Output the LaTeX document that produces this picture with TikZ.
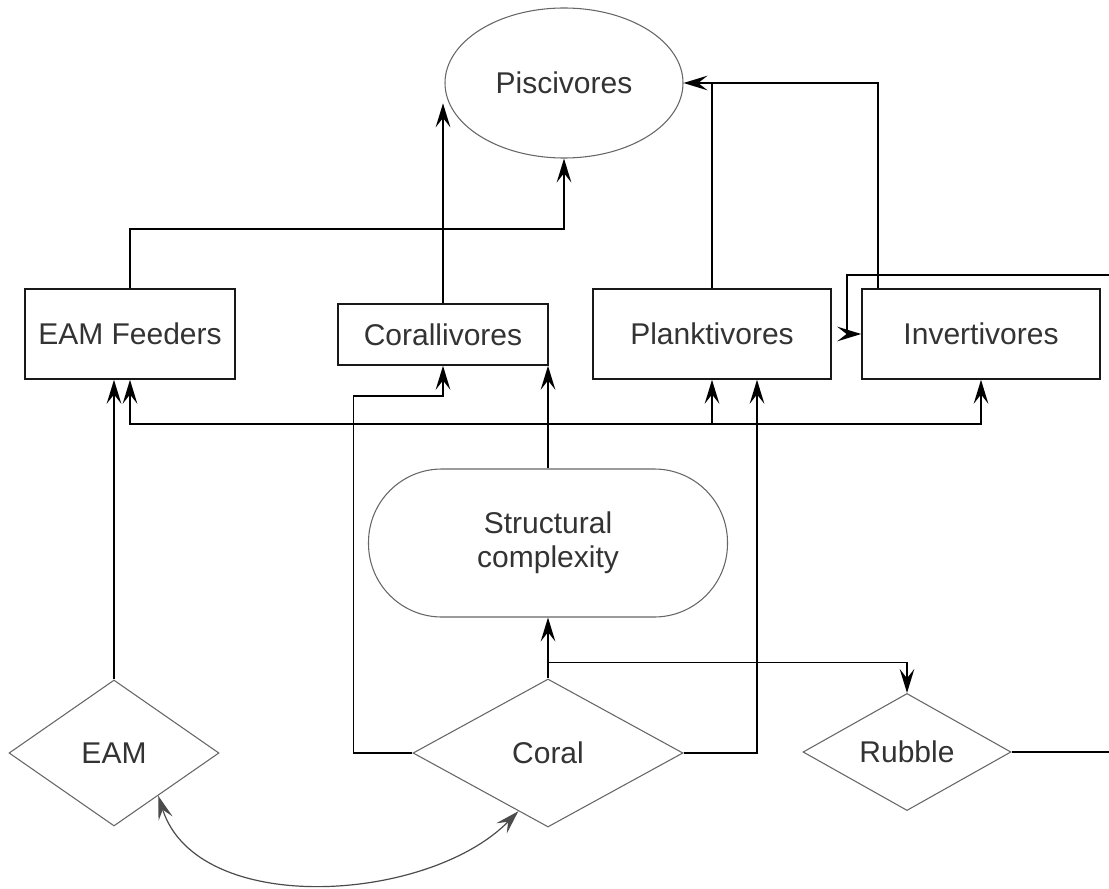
\documentclass[tikz,border=0pt]{standalone}
\usepackage{fontspec}
\setmainfont{Liberation Sans}
\usetikzlibrary{arrows.meta,shapes.geometric}

\begin{document}
\begin{tikzpicture}[x=0.75pt,y=0.75pt,yscale=-1,xscale=1,
  every node/.style={text=black!80,font=\fontsize{22.5}{25.5}\selectfont,inner sep=0pt},
  box/.style={draw=black!90,line width=1.2pt,rectangle},
  oval/.style={draw=black!60,line width=0.8pt,ellipse},
  rhomb/.style={draw=black!60,line width=0.8pt,diamond},
  pill/.style={draw=black!60,line width=0.8pt,rectangle,rounded corners=55pt,align=center},
  link/.style={line width=1.2pt},
  arr/.style={link,-{Stealth[length=18pt,width=11pt,inset=7pt]}},
  arrs/.style={draw=black!70,line width=0.9pt,{Stealth[length=18pt,width=11pt,inset=7pt]}-{Stealth[length=18pt,width=11pt,inset=7pt]}}]
\useasboundingbox (0,0) rectangle (1109,888);

% Ellipse
\node (pisc) [oval,minimum width=178.5pt,minimum height=112.5pt] at (564,83) {Piscivores};
% Boxes
\node (feed) [box,minimum width=157.5pt,minimum height=67.5pt] at (130,334) {EAM Feeders};
\node (corv) [box,minimum width=157.5pt,minimum height=45.75pt] at (443,334.5) {Corallivores};
\node (plank) [box,minimum width=178.5pt,minimum height=67.5pt] at (712,334) {Planktivores};
\node (invert) [box,minimum width=178.5pt,minimum height=67.5pt] at (981,334) {Invertivores};
% Rounded box
\node (struct) [pill,minimum width=269.25pt,minimum height=111pt] at (548,543) {Structural\\complexity};
% Diamonds
\node (eam) [rhomb,minimum width=157.5pt,minimum height=109.5pt] at (114,753) {EAM};
\node (coral) [rhomb,minimum width=202.5pt,minimum height=111pt] at (548,753) {Coral};
\node (rubble) [rhomb,minimum width=156pt,minimum height=66.75pt] at (907,752) {Rubble};

% free ends at the right edge
\coordinate (bus) at (548,424);
\coordinate (rout) at (1109,752);
\coordinate (rin) at (1109,275);

%Straight Lines to Piscivores
\draw [arr] (feed.north) -- ++(0,-59) -| (pisc.south);
\draw [arr] (corv.north) -- (corv.north |- pisc.190);
\draw [arr] (plank.north) |- (pisc.east);
\draw [link] ([xshift=-77.25pt]invert.north) |- (plank.north |- pisc.east);

%Straight Lines from Structural complexity
\draw [arr] (struct.north) -- (struct.north |- corv.south);
\draw [arr] (bus) -| (feed.south);
\draw [arr] (bus) -| (plank.south);
\draw [arr] (bus) -| (invert.south);

%Straight Lines from EAM and Coral
\draw [arr] (eam.north) -- ([xshift=-12pt]feed.south);
\draw [arr] (coral.west) -- ++(-59,0) -- ++(0,-357) -| (corv.south);
\draw [arr] (coral.east) -| ([xshift=33.75pt]plank.south);
\draw [arr] (coral.north) -- (struct.south);
\draw [arr] (coral.north) ++(0,-16) -| (rubble.north);

%Straight Lines at the right edge
\draw [link] (rubble.east) -- (rout);
\draw [arr] (rin) -- ++(-262,0) |- (invert.west);

%Curve Lines
\draw [arrs] (eam.-44) .. controls +(39,122) and +(-90,92) .. (coral.-117);

\end{tikzpicture}
\end{document}
